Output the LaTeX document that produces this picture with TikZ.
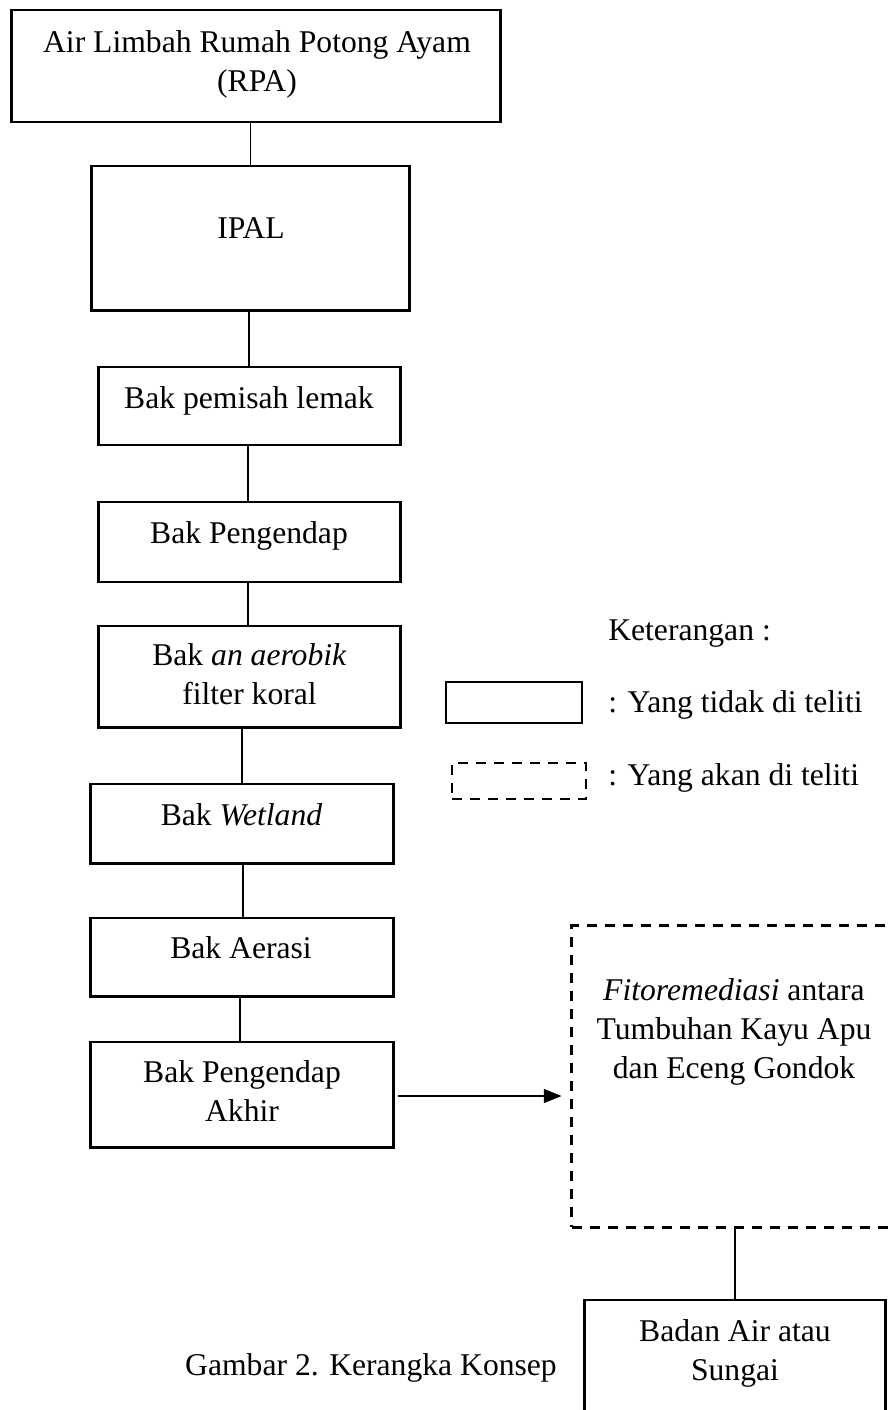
\documentclass[tikz,border=0pt]{standalone}
\usepackage{fontspec}
\setmainfont{Liberation Serif}
\usetikzlibrary{arrows.meta}
\tikzset{
  box/.style={draw, line width=2.1pt, inner sep=0pt},
  dbox/.style={draw, line width=2.1pt, inner sep=0pt, dash pattern=on 7.3pt off 5.5pt},
  conn/.style={line width=0.9pt},
  arr/.style={line width=0.9pt, -{Triangle[length=0.44cm,width=0.35cm]}},
  txt/.style={font=\fontsize{22.5}{27.7}\selectfont, inner sep=0pt, align=center},
}
\begin{document}
\begin{tikzpicture}[x=0.025cm, y=-0.025cm]
\clip (0,0) rectangle (890,1410);
\fill[white] (0,0) rectangle (890,1410);
% boxes
\node[box, minimum width=12.2cm, minimum height=2.8cm] (rpa) at (256,66) {};
\node[box, minimum width=7.925cm, minimum height=3.6cm] (ipal) at (250.5,238) {};
\node[box, minimum width=7.525cm, minimum height=1.95cm] (lemak) at (249.5,406) {};
\node[box, minimum width=7.525cm, minimum height=2.0cm] (endap) at (249.5,542) {};
\node[box, minimum width=7.525cm, minimum height=2.525cm] (aerob) at (249.5,676.5) {};
\node[box, minimum width=7.55cm, minimum height=1.975cm] (wet) at (242,823.5) {};
\node[box, minimum width=7.55cm, minimum height=1.95cm] (aerasi) at (242,957) {};
\node[box, minimum width=7.55cm, minimum height=2.625cm] (akhir) at (242,1094.5) {};
\node[dbox, minimum width=8.025cm, minimum height=7.525cm] (fito) at (732.5,1076.5) {};
\node[box, minimum width=7.5cm, minimum height=3.25cm] (badan) at (735,1365) {};
% legend boxes
\node[box, minimum width=3.4cm, minimum height=1.025cm] (legA) at (514,702.5) {};
\node[dbox, minimum width=3.35cm, minimum height=0.9cm] (legB) at (519,781) {};
% texts
\node[txt] (trpa) at (257,64) {Air Limbah Rumah Potong Ayam\\(RPA)};
\node[txt, anchor=base] (tipal) at (251,238) {IPAL};
\node[txt, anchor=base] (tlemak) at (249,408) {Bak pemisah lemak};
\node[txt, anchor=base] (tendap) at (249,543) {Bak Pengendap};
\node[txt] (taerob) at (249.5,674) {Bak \textit{an aerobik}\\filter koral};
\node[txt, anchor=base] (twet) at (241.5,825) {Bak \textit{Wetland}};
\node[txt, anchor=base] (taerasi) at (241,958) {Bak Aerasi};
\node[txt] (takhir) at (242,1091) {Bak Pengendap\\Akhir};
\node[txt] (tfito) at (734,1032) {\textit{Fitoremediasi} antara\\Tumbuhan Kayu Apu\\dan Eceng Gondok};
\node[txt] (tbadan) at (735,1353.5) {Badan Air atau\\Sungai};
\node[txt, anchor=base west] (tket) at (608,640) {Keterangan :};
\node[txt, anchor=base west] (tlegA) at (608,712) {: Yang tidak di teliti};
\node[txt, anchor=base west] (tlegB) at (608,785) {: Yang akan di teliti};
\node[txt, anchor=base] (cap) at (371,1375) {Gambar 2. Kerangka Konsep};
% connectors
\draw[conn] (ipal.north) -- (ipal.north |- rpa.south);
\draw[conn] ([xshift=-0.0125cm]lemak.north) -- ([xshift=-0.0125cm]lemak.north |- ipal.south);
\draw[conn] ([xshift=-0.0375cm]endap.north) -- ([xshift=-0.0375cm]endap.north |- lemak.south);
\draw[conn] ([xshift=-0.0375cm]aerob.north) -- ([xshift=-0.0375cm]aerob.north |- endap.south);
\draw[conn] (wet.north) -- (wet.north |- aerob.south);
\draw[conn] ([xshift=0.025cm]aerasi.north) -- ([xshift=0.025cm]aerasi.north |- wet.south);
\draw[conn] ([xshift=-0.05cm]akhir.north) -- ([xshift=-0.05cm]akhir.north |- aerasi.south);
\draw[arr, shorten <=0.075cm, shorten >=0.225cm] ([yshift=-0.0375cm]akhir.east) -- ([yshift=-0.0375cm]akhir.east -| fito.west);
\draw[conn] (badan.north) -- (badan.north |- fito.south);
\end{tikzpicture}
\end{document}
